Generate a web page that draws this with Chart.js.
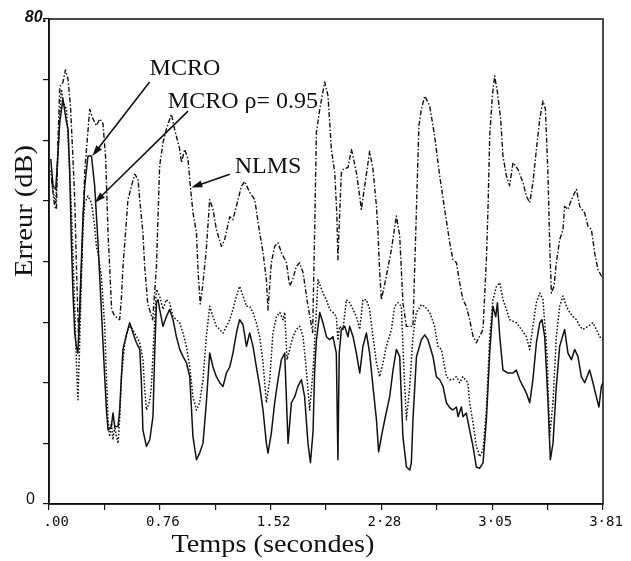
<!DOCTYPE html>
<html>
<head>
<meta charset="utf-8">
<script src="https://cdn.jsdelivr.net/npm/chart.js@4.4.1/dist/chart.umd.min.js"></script>
<style>
  html, body { margin: 0; padding: 0; background: #fff; }
  #wrap { width: 631px; height: 561px; }
</style>
</head>
<body>
<div id="wrap"><canvas id="chart" width="631" height="561"></canvas></div>
<script>
// ---------- Data: time (s) / error (dB) ----------
const mcroTime = [
  0.012,0.028,0.046,0.062,0.074,0.096,0.120,0.131,0.142,0.154,
  0.165,0.177,0.188,0.199,0.211,0.223,0.234,0.246,0.268,0.292,
  0.314,0.337,0.360,0.383,0.395,0.406,0.429,0.440,0.452,0.475,
  0.486,0.498,0.509,0.532,0.555,0.578,0.601,0.624,0.635,0.646,
  0.670,0.693,0.715,0.727,0.739,0.750,0.761,0.784,0.807,0.830,
  0.853,0.876,0.899,0.922,0.945,0.968,0.990,1.014,1.036,1.059,
  1.082,1.105,1.128,1.151,1.174,1.197,1.220,1.243,1.265,1.289,
  1.311,1.334,1.358,1.380,1.403,1.426,1.449,1.472,1.495,1.506,
  1.529,1.552,1.575,1.598,1.621,1.644,1.667,1.690,1.712,1.736,
  1.758,1.781,1.798,1.816,1.827,1.839,1.862,1.884,1.908,1.930,
  1.953,1.976,1.987,1.996,2.011,2.034,2.056,2.068,2.091,2.114,
  2.137,2.159,2.183,2.205,2.228,2.252,2.267,2.286,2.309,2.343,
  2.366,2.389,2.412,2.434,2.458,2.481,2.492,2.503,2.527,2.561,
  2.584,2.606,2.641,2.664,2.687,2.710,2.733,2.756,2.778,2.802,
  2.813,2.836,2.847,2.870,2.893,2.916,2.939,2.962,2.985,3.008,
  3.031,3.053,3.072,3.084,3.100,3.122,3.157,3.191,3.214,3.237,
  3.260,3.283,3.306,3.328,3.352,3.375,3.390,3.409,3.432,3.448,
  3.466,3.489,3.512,3.546,3.569,3.593,3.615,3.638,3.661,3.684,
  3.718,3.741,3.764,3.782,3.799,3.810
];
const mcroDb = [
  56.9,52.5,51.9,58,63,66.8,63,61.8,55.2,43.1,
  34.8,28.2,26,24.9,32.1,40.3,47.5,52.5,57.4,57.4,
  52.5,43.1,32.1,21,15.5,12.2,12.8,15,12.8,12.8,
  15.5,21,25.5,27.9,29.9,28.2,26.6,25.5,20.5,12.2,
  9.5,10.6,14.4,24.9,33.2,33.7,32.1,29.3,30.9,32.1,
  30.4,27.6,25.5,24.3,23.3,21,11.1,7.3,8.4,10,
  16.7,24.9,22.6,21,20,19.4,21.6,22.6,24.9,28.2,
  30.4,29.6,26,28.2,26,22.6,19.4,15.5,10,8.4,
  11.7,16.7,20.5,23.8,24.9,10,16.7,17.7,19.4,20.5,
  17.7,10,6.8,12,22,27,31.6,29.9,27.6,27.1,
  27.6,24.9,7.3,24.9,28.8,29.3,27.6,29.3,27.6,24.9,
  21.6,26,28.2,24.9,19.4,13.9,8.6,11.1,13.9,17.7,
  22.1,25.5,24.3,11.1,6.1,5.6,6.8,13.9,24.3,27.1,
  27.9,27.1,24.3,21,20.5,19.4,16.7,15.9,15.5,16,
  14.4,16,14.4,15,12.2,9.5,6.1,5.9,6.8,13.9,
  24.9,32.6,30.9,33.2,27.6,22.1,21.6,21.6,22.1,20.5,
  19.4,18.3,16.7,20.5,26.6,29.9,30.4,27.6,16.7,7.3,
  10,19.4,26,28.8,24.9,23.8,25.5,24.3,21,20,
  22.1,20,17.7,16,19.4,20
];

const rhoTime = [
  0.012,0.025,0.046,0.062,0.074,0.085,0.101,0.120,0.131,0.154,
  0.177,0.188,0.199,0.211,0.223,0.234,0.246,0.268,0.292,0.314,
  0.326,0.337,0.360,0.383,0.395,0.406,0.417,0.429,0.440,0.452,
  0.464,0.475,0.486,0.498,0.521,0.543,0.562,0.601,0.624,0.646,
  0.658,0.670,0.693,0.704,0.727,0.739,0.761,0.784,0.807,0.830,
  0.853,0.876,0.899,0.922,0.945,0.968,0.990,1.014,1.036,1.059,
  1.082,1.105,1.128,1.151,1.174,1.197,1.220,1.243,1.265,1.289,
  1.311,1.334,1.358,1.380,1.403,1.426,1.449,1.472,1.495,1.518,
  1.540,1.564,1.587,1.609,1.621,1.637,1.655,1.678,1.701,1.724,
  1.747,1.770,1.793,1.816,1.839,1.850,1.884,1.908,1.930,1.953,
  1.976,1.987,1.999,2.022,2.045,2.068,2.091,2.114,2.137,2.159,
  2.183,2.205,2.228,2.252,2.274,2.297,2.320,2.355,2.377,2.400,
  2.423,2.441,2.458,2.481,2.503,2.527,2.561,2.584,2.618,2.652,
  2.675,2.699,2.733,2.756,2.778,2.802,2.824,2.847,2.881,2.893,
  2.916,2.939,2.962,2.985,3.008,3.031,3.053,3.077,3.100,3.122,
  3.146,3.168,3.214,3.249,3.283,3.306,3.328,3.352,3.375,3.397,
  3.425,3.443,3.466,3.489,3.512,3.535,3.558,3.581,3.604,3.627,
  3.650,3.672,3.707,3.741,3.764,3.787,3.810
];
const rhoDb = [
  55,52,49.5,58,64,68.4,66,65.1,60.7,48.6,
  32,23.8,17.2,26.6,37.6,45.8,49.7,50.8,49.7,45.8,
  42.5,41.4,37.6,29.3,21,13.8,11.1,13.3,10.6,12.8,
  11.1,10,13.9,21,26.6,28.8,29.3,27.7,26.6,23.8,
  19,15.5,17,19.4,30.4,35.4,34.3,32.1,33.7,33.2,
  30.9,30.4,29.9,28.2,26,22.6,17.7,15.5,16.7,20.5,
  27.6,32.6,30.9,29.3,28.8,28.2,29.3,30.4,32.1,34.3,
  35.9,34.3,32.6,32.6,31.6,29.9,27.6,23.3,16.7,20.5,
  28.2,30.9,31.6,30.4,31.6,23.8,25.5,27.6,28.8,29.3,
  27.6,22.1,15.5,22.1,32,37,34.8,33.7,32.1,31.6,
  30.9,27,29.3,28.8,33.7,33.2,32.1,30.9,28.8,33.7,
  33.7,32.1,27.6,23.3,21,23.3,26,28.8,32.6,33.2,
  32.6,22.1,13.9,19.4,27.6,31.6,32.9,32.6,31.6,29.3,
  26,25.5,21,20.5,20.5,21,20,21,20,16.7,
  13.4,9.5,7.8,8.9,15.5,27.6,33.7,35.9,36.5,33.7,
  32.1,30.4,29.9,28.8,27.6,25.5,29.3,33.2,34.8,33.7,
  24.9,11.1,16.7,27.6,32.6,34.3,32.6,31.6,30.9,30.4,
  29.3,28.8,29.3,29.9,28.8,27.6,27.1
];

const nlmsTime = [
  0.017,0.039,0.051,0.062,0.074,0.096,0.113,0.131,0.149,0.165,
  0.177,0.190,0.204,0.225,0.246,0.280,0.303,0.326,0.349,0.371,
  0.390,0.399,0.406,0.417,0.431,0.452,0.486,0.498,0.509,0.543,
  0.567,0.589,0.612,0.624,0.646,0.658,0.679,0.713,0.739,0.761,
  0.784,0.807,0.842,0.864,0.899,0.911,0.933,0.956,0.972,0.990,
  1.014,1.026,1.040,1.057,1.082,1.105,1.128,1.151,1.186,1.208,
  1.243,1.265,1.300,1.323,1.346,1.380,1.415,1.449,1.472,1.495,
  1.506,1.518,1.529,1.552,1.575,1.598,1.633,1.655,1.676,1.701,
  1.724,1.747,1.779,1.813,1.827,1.839,1.862,1.896,1.919,1.942,
  1.965,1.979,1.987,1.999,2.011,2.022,2.056,2.080,2.114,2.137,
  2.148,2.171,2.194,2.205,2.228,2.252,2.263,2.274,2.286,2.320,
  2.355,2.389,2.412,2.423,2.434,2.458,2.503,2.527,2.544,2.561,
  2.584,2.618,2.652,2.687,2.721,2.756,2.778,2.802,2.824,2.847,
  2.870,2.893,2.916,2.939,2.962,2.985,3.008,3.019,3.031,3.049,
  3.065,3.084,3.106,3.122,3.146,3.168,3.191,3.225,3.260,3.283,
  3.306,3.328,3.352,3.375,3.397,3.414,3.432,3.443,3.455,3.473,
  3.489,3.512,3.535,3.546,3.569,3.593,3.627,3.650,3.684,3.707,
  3.730,3.753,3.775,3.799,3.808
];
const nlmsDb = [
  53.6,49.1,48.6,60.2,68.8,69.6,71.6,70.1,65.1,56.9,
  50.2,38,27,40,55,65.1,63.5,62.4,63.5,62.8,
  56.9,50.2,44.7,39.2,32,31,30.4,34,39.2,50.2,
  52.4,54.4,53.6,50.2,44.7,39.2,33,30.4,39.2,55.8,
  59.6,61.8,64.3,61.8,58.5,56.3,58.5,56.9,52.4,48.1,
  44.7,38,33,36,42,50.2,48.6,45.3,42.5,43.6,
  47.4,46.9,50.2,52.4,53.2,51.4,50.2,44.7,41.5,37,
  32,36,39.8,42.5,43.1,41.5,39.8,36,37,39.2,
  39.8,38.2,33,28.3,45,61.3,65.1,69.6,67.3,58.5,
  54.7,48,40.3,48,54.7,55.2,55.5,58.5,54.7,50.7,
  48.6,52.4,56.3,58.2,55.2,49.1,44.7,38.2,33.7,37.6,
  42,47.5,44.2,38.7,33.2,29.3,29.3,48.6,62.4,65.1,
  67.3,65.7,60.7,54.1,48.6,43.1,40.3,39.8,36.5,33.7,
  32.6,30.4,27.7,26.6,27.7,28.8,40.3,48.6,60.7,67.3,
  70.6,67.9,63.5,57.4,54.1,52.5,56.3,55.2,53,50.8,
  49.7,53,58.5,63.5,66.5,65.1,54.1,43.1,34.8,35.9,
  39.8,43.6,45.3,49.1,48.6,50.2,51.9,49.1,48,45.8,
  45.3,41.4,38.7,37.6,38
];

// ---------- Axes ----------
const xMax = 3.81;
const xTicks = [0, 0.381, 0.762, 1.143, 1.524, 1.905, 2.286, 2.667, 3.048, 3.429, 3.81];
const xTickLabels = [" .00", "", "0.76", "", "1.52", "", "2·28", "", "3·05", "", "3·81"];
const yMax = 80;
const yTickValues = [0, 80];
const yTickLabels = ["0", "80."];

// ---------- Annotations (label, text anchor, arrow start, arrow tip in t/dB) ----------
const notes = [
  { text: "MCRO",          at: [0.692, 70.8], from: [0.692, 69.6], to: [0.298, 57.4] },
  { text: "MCRO ρ= 0.95",  at: [0.817, 65.3], from: [0.956, 64.8], to: [0.314, 49.7] },
  { text: "NLMS",          at: [1.277, 54.6], from: [1.243, 54.4], to: [0.979, 52.2] }
];

const pts = (ts, vs) => ts.map((t, i) => ({ x: t, y: vs[i] }));
const INK = "#111";
const SERIF = '"Liberation Serif", "Times New Roman", serif';

// text squeezed/stretched to a given width
function fitText(ctx, text, cx, baseY, width, font, rot) {
  ctx.save();
  ctx.font = font;
  const w = ctx.measureText(text).width;
  ctx.translate(cx, baseY);
  if (rot) ctx.rotate(rot);
  ctx.scale(width / w, 1);
  ctx.textAlign = "center";
  ctx.textBaseline = "alphabetic";
  ctx.fillText(text, 0, 0);
  ctx.restore();
}

function arrow(ctx, x0, y0, x1, y1) {
  const a = Math.atan2(y1 - y0, x1 - x0), L = 11, W = 3.5;
  ctx.beginPath();
  ctx.moveTo(x0, y0);
  ctx.lineTo(x1 - Math.cos(a) * L * 0.8, y1 - Math.sin(a) * L * 0.8);
  ctx.stroke();
  ctx.beginPath();
  ctx.moveTo(x1, y1);
  ctx.lineTo(x1 - Math.cos(a) * L - Math.sin(a) * W, y1 - Math.sin(a) * L + Math.cos(a) * W);
  ctx.lineTo(x1 - Math.cos(a) * L + Math.sin(a) * W, y1 - Math.sin(a) * L - Math.cos(a) * W);
  ctx.closePath();
  ctx.fill();
}

const decorPlugin = {
  id: "decor",
  afterDraw(chart) {
    const { ctx, chartArea: a, scales: { x, y } } = chart;
    ctx.save();
    ctx.strokeStyle = INK;
    ctx.fillStyle = INK;

    // frame (top + right sides)
    ctx.lineWidth = 1.5;
    ctx.strokeRect(a.left, a.top, a.right - a.left, a.bottom - a.top);

    // y labels
    ctx.textAlign = "right";
    ctx.textBaseline = "middle";
    ctx.font = 'italic bold 16px "Liberation Sans", Arial, sans-serif';
    ctx.fillText(yTickLabels[1], a.left - 2, y.getPixelForValue(yTickValues[1]) - 1);
    ctx.font = '16px "Liberation Sans", Arial, sans-serif';
    ctx.fillText(yTickLabels[0], a.left - 14, y.getPixelForValue(yTickValues[0]) - 4);

    // axis titles
    fitText(ctx, "Temps (secondes)", 273, 552, 203, "25px " + SERIF);
    fitText(ctx, "Erreur (dB)", 32, 211, 132, "25px " + SERIF, -Math.PI / 2);

    // annotations
    ctx.font = "24px " + SERIF;
    ctx.textAlign = "left";
    ctx.textBaseline = "alphabetic";
    ctx.lineWidth = 1.6;
    notes.forEach(n => {
      ctx.fillText(n.text, x.getPixelForValue(n.at[0]), y.getPixelForValue(n.at[1]));
      arrow(ctx, x.getPixelForValue(n.from[0]), y.getPixelForValue(n.from[1]),
                 x.getPixelForValue(n.to[0]), y.getPixelForValue(n.to[1]));
    });
    ctx.restore();
  }
};

const line = (label, data, dash, width) => ({
  label, data, borderColor: INK, borderWidth: width, borderDash: dash,
  pointRadius: 0, tension: 0, fill: false, borderCapStyle: "butt", borderJoinStyle: "round"
});

new Chart(document.getElementById("chart").getContext("2d"), {
  type: "line",
  data: {
    datasets: [
      line("NLMS", pts(nlmsTime, nlmsDb), [5, 2, 1.5, 2], 1.4),
      line("MCRO ρ= 0.95", pts(rhoTime, rhoDb), [1.6, 1.8], 1.5),
      line("MCRO", pts(mcroTime, mcroDb), [], 1.5)
    ]
  },
  options: {
    responsive: false,
    animation: false,
    devicePixelRatio: 1,
    layout: { padding: { left: 0, top: 19, right: 28, bottom: 0 } },
    plugins: { legend: { display: false }, tooltip: { enabled: false } },
    scales: {
      x: {
        type: "linear", min: 0, max: xMax,
        afterFit: (s) => { s.height = 57; },
        afterBuildTicks: (s) => { s.ticks = xTicks.map(v => ({ value: v })); },
        grid: { drawOnChartArea: false, drawTicks: true, tickLength: 6, color: INK, lineWidth: 1.2 },
        border: { display: true, color: INK, width: 1.5 },
        ticks: {
          autoSkip: false, maxRotation: 0, padding: 4, labelOffset: 3, color: INK,
          font: { family: '"DejaVu Sans Mono", monospace', size: 14 },
          callback: (v, i) => xTickLabels[i]
        }
      },
      y: {
        type: "linear", min: 0, max: yMax,
        afterFit: (s) => { s.width = 49; },
        grid: { drawOnChartArea: false, drawTicks: true, tickLength: 6, color: INK, lineWidth: 1.2 },
        border: { display: true, color: INK, width: 1.5 },
        ticks: { stepSize: 10, display: false }
      }
    }
  },
  plugins: [decorPlugin]
});
</script>
</body>
</html>
